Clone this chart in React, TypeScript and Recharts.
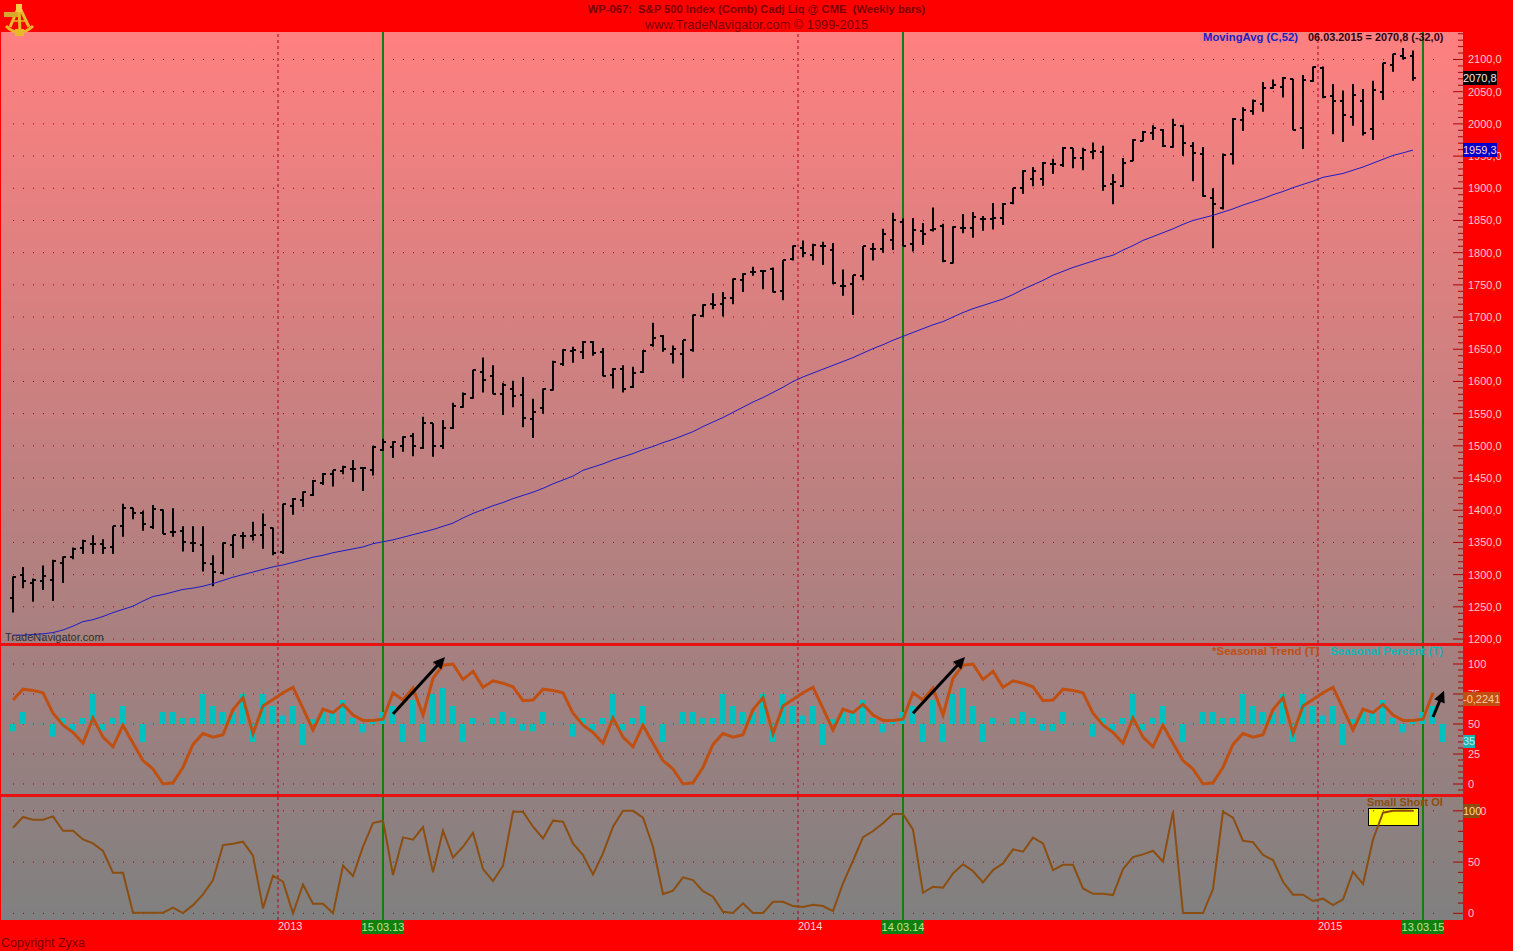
import { Bar, ComposedChart, Line, ReferenceLine, XAxis, YAxis } from "recharts";

// weekly bars from the end of June 2012, the last rows are the seasonal look-ahead
const weeks = Array.from({ length: 144 }, (_, i) => i);

const priceOpen = [
  1263, 1300, 1287, 1290, 1292, 1318, 1328, 1341, 1348, 1348,
  1343, 1375, 1403, 1396, 1374, 1401, 1366, 1368, 1349, 1346,
  1317, 1303, 1346, 1360, 1360, 1362, 1373, 1335, 1407, 1416,
  1424, 1442, 1456, 1461, 1464, 1465, 1463, 1493, 1498, 1500,
  1515, 1497, 1535, 1500, 1528, 1561, 1575, 1614, 1608, 1581,
  1588, 1579, 1541, 1559, 1587, 1627, 1647, 1645, 1662, 1646,
  1610, 1619, 1591, 1614, 1656, 1671, 1643, 1643, 1649, 1701,
  1720, 1720, 1729, 1758, 1770, 1772, 1774, 1741, 1790, 1808,
  1796, 1810, 1804, 1748, 1751, 1764, 1805, 1806, 1820, 1847,
  1813, 1833, 1835, 1841, 1784, 1838, 1839, 1852, 1853, 1854,
  1877, 1900, 1914, 1914, 1938, 1936, 1962, 1947, 1957, 1956,
  1906, 1904, 1943, 1974, 1986, 1990, 1964, 1997, 1966, 1953,
  1885, 1869, 1954, 2006, 2020, 2031, 2056, 2057, 2069, 1993,
  2066, 2087, 2044, 2036, 2011, 2036, 1992, 2049, 2091, 2105,
  2105,
];
const priceHigh = [
  1297, 1312, 1294, 1314, 1323, 1328, 1342, 1354, 1361, 1355,
  1375, 1410, 1404, 1399, 1408, 1401, 1403, 1375, 1375, 1375,
  1330, 1350, 1361, 1366, 1382, 1395, 1373, 1410, 1419, 1429,
  1447, 1458, 1462, 1469, 1478, 1466, 1500, 1511, 1507, 1515,
  1520, 1545, 1535, 1540, 1567, 1583, 1618, 1637, 1625, 1598,
  1601, 1607, 1573, 1589, 1632, 1650, 1654, 1663, 1663, 1652,
  1621, 1625, 1623, 1649, 1691, 1672, 1656, 1664, 1704, 1720,
  1737, 1739, 1760, 1768, 1778, 1773, 1777, 1789, 1811, 1819,
  1814, 1817, 1815, 1774, 1765, 1810, 1815, 1837, 1862, 1853,
  1854, 1846, 1870, 1845, 1841, 1860, 1863, 1857, 1877, 1877,
  1901, 1928, 1933, 1941, 1946, 1964, 1963, 1963, 1971, 1966,
  1922, 1947, 1976, 1989, 1998, 1992, 2008, 1998, 1972, 1964,
  1900, 1954, 2009, 2026, 2038, 2065, 2069, 2073, 2070, 2076,
  2089, 2089, 2062, 2052, 2062, 2054, 2067, 2095, 2109, 2118,
  2114,
];
const priceLow = [
  1241, 1279, 1258, 1276, 1259, 1287, 1324, 1332, 1332, 1332,
  1332, 1359, 1386, 1368, 1371, 1363, 1359, 1336, 1335, 1305,
  1282, 1301, 1326, 1340, 1353, 1340, 1330, 1332, 1393, 1405,
  1422, 1439, 1437, 1456, 1444, 1430, 1454, 1492, 1481, 1491,
  1484, 1495, 1483, 1495, 1526, 1559, 1573, 1583, 1580, 1548,
  1560, 1529, 1512, 1550, 1586, 1624, 1629, 1635, 1640, 1608,
  1589, 1583, 1590, 1613, 1654, 1646, 1628, 1605, 1646, 1700,
  1712, 1701, 1720, 1739, 1764, 1743, 1738, 1726, 1788, 1793,
  1788, 1781, 1751, 1733, 1703, 1757, 1788, 1800, 1804, 1810,
  1802, 1812, 1833, 1785, 1783, 1830, 1823, 1834, 1836, 1843,
  1875, 1891, 1903, 1904, 1922, 1933, 1931, 1928, 1945, 1896,
  1875, 1902, 1942, 1973, 1975, 1964, 1963, 1950, 1911, 1887,
  1807, 1867, 1937, 1989, 2014, 2019, 2054, 2041, 1990, 1961,
  2065, 2040, 1984, 1972, 1997, 1982, 1975, 2037, 2081, 2100,
  2067,
];
const priceClose = [
  1296, 1290, 1291, 1298, 1321, 1327, 1340, 1352, 1348, 1342,
  1375, 1403, 1396, 1378, 1402, 1363, 1366, 1350, 1349, 1318,
  1304, 1349, 1361, 1360, 1361, 1377, 1334, 1409, 1418, 1428,
  1446, 1457, 1462, 1467, 1464, 1465, 1498, 1506, 1506, 1514,
  1500, 1536, 1500, 1528, 1562, 1581, 1618, 1602, 1580, 1595,
  1578, 1543, 1553, 1588, 1630, 1649, 1649, 1662, 1644, 1609,
  1620, 1588, 1613, 1648, 1668, 1651, 1651, 1664, 1703, 1719,
  1719, 1730, 1759, 1767, 1770, 1771, 1739, 1788, 1810, 1799,
  1812, 1810, 1753, 1748, 1765, 1810, 1806, 1829, 1851, 1811,
  1835, 1829, 1837, 1787, 1840, 1839, 1855, 1852, 1854, 1876,
  1900, 1927, 1927, 1940, 1938, 1963, 1947, 1960, 1958, 1904,
  1910, 1940, 1975, 1988, 1993, 1966, 1999, 1970, 1955, 1888,
  1875, 1952, 2008, 2022, 2035, 2056, 2060, 2072, 1991, 2068,
  2088, 2041, 2035, 2014, 2045, 1986, 2053, 2094, 2108, 2102,
  2070.8,
];
const movingAvg = [
  1206, 1206, 1207, 1208, 1210, 1214, 1220, 1227, 1230, 1235,
  1241, 1246, 1251, 1259, 1266, 1269, 1273, 1277, 1279, 1282,
  1286, 1291, 1296, 1300, 1304, 1308, 1312, 1315, 1319, 1323,
  1327, 1330, 1334, 1337, 1340, 1343, 1348, 1351, 1354, 1358,
  1362, 1366, 1370, 1375, 1380, 1388, 1395, 1401, 1407, 1412,
  1418, 1423, 1428, 1434, 1441, 1447, 1453, 1462, 1467, 1472,
  1478, 1483, 1488, 1494, 1499, 1505, 1510, 1516, 1522, 1530,
  1537, 1544, 1552, 1560, 1568, 1575, 1583, 1591, 1600, 1607,
  1613, 1619, 1625, 1631, 1637, 1644, 1651, 1657, 1664, 1670,
  1676, 1682, 1688, 1693, 1700, 1707, 1713, 1718, 1723, 1728,
  1735, 1743, 1750, 1757, 1765, 1771, 1777, 1782, 1787, 1792,
  1796, 1804, 1811, 1819, 1825, 1831, 1837, 1844, 1850, 1854,
  1858, 1863, 1868, 1874, 1879, 1884, 1890, 1895, 1901, 1906,
  1911, 1917, 1920, 1923, 1928, 1933, 1939, 1945, 1951, 1955,
  1959.3,
];
const seasonalTrend = [
  70, 79, 78, 76, 59, 49, 43, 34, 55, 39, 31, 49, 34, 19.5, 12.5, 0, 1, 14, 33, 42, 39, 41, 62, 72, 42, 65,
  70.5, 76, 80.5, 63, 45, 62.5, 59.5, 66.5, 57.5, 53, 53, 54, 76, 70, 80, 57.5, 88, 99, 100, 87, 94, 80.5, 86, 84, 81, 69.5,
  70, 79, 78, 76, 59, 49, 43, 34, 55, 39, 31, 49, 34, 19.5, 12.5, 0, 1, 14, 33, 42, 39, 41, 62, 72, 42, 65,
  70.5, 76, 80.5, 63, 45, 62.5, 59.5, 66.5, 57.5, 53, 53, 54, 76, 70, 80, 57.5, 88, 99, 100, 87, 94, 80.5, 86, 84, 81, 69.5,
  70, 79, 78, 76, 59, 49, 43, 34, 55, 39, 31, 49, 34, 19.5, 12.5, 0, 1, 14, 33, 42, 39, 41, 62, 72, 42, 65,
  70.5, 76, 80.5, 63, 45, 62.5, 59.5, 66.5, 57.5, 53, 53, 54, 76,
];
const seasonalPercent = [
  44, 60, 50, 50, 39.5, 55, 44.5, 55, 75, 44.5, 55, 65, 50, 35, 50, 60, 60, 55, 55, 75, 65, 60, 60, 75, 35, 75,
  65, 57, 65, 32.5, 54, 60, 60, 70, 55, 43, 53, 60, 65, 35, 70, 35, 75, 80, 65, 35, 55, 50, 55, 60, 55, 44.5,
  44, 60, 50, 50, 39.5, 55, 44.5, 55, 75, 44.5, 55, 65, 50, 35, 50, 60, 60, 55, 55, 75, 65, 60, 60, 75, 35, 75,
  65, 57, 65, 32.5, 54, 60, 60, 70, 55, 43, 53, 60, 65, 35, 70, 35, 75, 80, 65, 35, 55, 50, 55, 60, 55, 44.5,
  44, 60, 50, 50, 39.5, 55, 44.5, 55, 75, 44.5, 55, 65, 50, 35, 50, 60, 60, 55, 55, 75, 65, 60, 60, 75, 35, 75,
  65, 57, 65, 32.5, 54, 60, 60, 70, 55, 43, 53, 60, 65, 35,
];
const smallShortOI = [
  83.5, 94, 91.3, 91.3, 94.6, 80.6, 80.6, 72.1, 68.2, 60.8,
  39.6, 39.6, 0.6, 0.6, 0.6, 0.6, 5.5, 0.3, 8, 18.5,
  32.5, 66.6, 67.9, 69.9, 56.2, 4.8, 36.7, 30.8, 0, 28.2,
  9.4, 9.4, 0, 46.5, 36.4, 65, 88.1, 90.4, 37.4, 74.1,
  71.8, 84.2, 40, 80.6, 54.3, 65, 78.7, 43.2, 31.5, 46.5,
  99.1, 99.1, 84.5, 73.1, 90.4, 89.4, 68.2, 56.9, 38, 58.5,
  84.5, 100, 100, 93.3, 65, 18.8, 22.1, 35.1, 32.5, 21.7,
  16.2, 1.6, 0.3, 9.7, 0.3, 0.3, 11.3, 11.3, 7.1, 6.1,
  8.4, 7.1, 2.2, 29.2, 51.3, 74.4, 80.3, 87.8, 96.9, 96.9,
  81.6, 20.1, 26, 25, 39, 47.8, 41.3, 30.2, 42.2, 48.7,
  62.4, 60.1, 73.8, 68.2, 42.2, 47.4, 47.4, 24.3, 19.1, 19.1,
  17.8, 43.2, 54.9, 57.5, 61.1, 50.4, 99.1, 0.3, 0.3, 0.3,
  23.7, 99.1, 93.3, 70.8, 69.5, 56.9, 52, 30.8, 18.2, 18.2,
  12, 14.3, 8.1, 13.6, 40.6, 28.6, 72.1, 98.2, 100, 100.4,
  100,
];

const yearLines = [26.5, 78.5, 130.5];
const yearLabels = ["2013", "2014", "2015"];
const cycleLines = [37, 89, 141];
const cycleLabels = ["15.03.13", "14.03.14", "13.03.15"];
const seasonalArrows = [
  { x1: 38, y1: 58.3, x2: 43.2, y2: 105.8 },
  { x1: 90, y1: 59, x2: 95.2, y2: 105.8 },
  { x1: 142, y1: 55.8, x2: 143.1, y2: 77.8 },
];

const priceTicks = Array.from({ length: 95 }, (_, k) => 1200 + k * 10);
const priceGrid = Array.from({ length: 19 }, (_, k) => 1200 + k * 50);
const seasonalTicks = Array.from({ length: 24 }, (_, k) => -5 + k * 5);
const seasonalGrid = [0, 25, 50, 75, 100];
const oiTicks = Array.from({ length: 11 }, (_, k) => k * 10);
const oiGrid = [0, 50, 100];

const rows = weeks.map((i) => ({
  i,
  open: priceOpen[i] ?? null,
  high: priceHigh[i] ?? null,
  low: priceLow[i] ?? null,
  close: priceClose[i] ?? null,
  range: priceHigh[i] != null ? [priceLow[i], priceHigh[i]] : null,
  ma: movingAvg[i] ?? null,
  trend: seasonalTrend[i] ?? null,
  pct: [Math.min(50, seasonalPercent[i]), Math.max(50, seasonalPercent[i])],
  oi: smallShortOI[i] ?? null,
}));

const FONT = "'Liberation Sans', Arial, sans-serif";
const TICK_RED = "#b00000";
const LABEL_PINK = "#ffc8c8";
const GRID_RED = "#9a0010";
const YEAR_RED = "#b00020";
const GREEN = "#108010";
const X_DOMAIN = [-1.2, 145];

// OHLC bar: stem with open tick left, close tick right, snapped to whole pixels
const OhlcShape = (props: any) => {
  const { x, y, width, height, payload } = props;
  if (!payload || payload.high == null) return null;
  const cx = Math.round(x + width / 2);
  const perUnit = height / (payload.high - payload.low);
  const openY = Math.round(y + (payload.high - payload.open) * perUnit);
  const closeY = Math.round(y + (payload.high - payload.close) * perUnit);
  return (
    <g stroke="#000" strokeWidth={2}>
      <line x1={cx} y1={y} x2={cx} y2={y + height} />
      <line x1={cx - 3} y1={openY} x2={cx} y2={openY} />
      <line x1={cx} y1={closeY} x2={cx + 3} y2={closeY} />
    </g>
  );
};

const PercentShape = (props: any) => {
  const { x, y, width, height } = props;
  if (height < 0.5) return <rect x={x} y={y - 0.5} width={width} height={1} fill="#00c0c0" opacity={0.45} />;
  return <rect x={x} y={y} width={width} height={height} fill="#00c0c0" />;
};

const ArrowShape = (props: any) => {
  const { x1, y1, x2, y2 } = props;
  const a = Math.atan2(y2 - y1, x2 - x1);
  const len = 13;
  const spread = 0.45;
  const head = [
    [x2, y2],
    [x2 - len * Math.cos(a - spread), y2 - len * Math.sin(a - spread)],
    [x2 - len * Math.cos(a + spread), y2 - len * Math.sin(a + spread)],
  ]
    .map((p) => p.join(","))
    .join(" ");
  return (
    <g>
      <line x1={x1} y1={y1} x2={x2 - 6 * Math.cos(a)} y2={y2 - 6 * Math.sin(a)} stroke="#000" strokeWidth={3} />
      <polygon points={head} fill="#000" />
    </g>
  );
};

// right hand scale, tick marks point into the plot
const makeYTick = (isMajor: (v: number) => boolean, format: (v: number) => string) => (props: any) => {
  const { x, y, payload } = props;
  const major = isMajor(payload.value);
  return (
    <g>
      <line x1={x - (major ? 10 : 5)} y1={y} x2={x} y2={y} stroke={TICK_RED} />
      {major && (
        <text x={x + 5} y={y + 4} fontSize={11} fontFamily={FONT} fill={LABEL_PINK}>
          {format(payload.value)}
        </text>
      )}
    </g>
  );
};

const priceTick = makeYTick(
  (v) => v % 50 === 0,
  (v) => v.toFixed(1).replace(".", ",")
);
const seasonalTick = makeYTick(
  (v) => v >= 0 && v <= 100 && v % 25 === 0,
  (v) => String(v)
);
const oiTick = makeYTick(
  (v) => v % 50 === 0,
  (v) => String(v)
);

const DateTick = (props: any) => {
  const { x, y, payload } = props;
  const y0 = yearLines.indexOf(payload.value);
  if (y0 >= 0) {
    return (
      <text x={x} y={y + 10} fontSize={11} fontFamily={FONT} fill="#ffd0d0">
        {yearLabels[y0]}
      </text>
    );
  }
  const c = cycleLines.indexOf(payload.value);
  return (
    <g>
      <rect x={x - 21} y={y} width={42} height={14} fill={GREEN} />
      <text x={x} y={y + 11} textAnchor="middle" fontSize={11} fontFamily={FONT} fill="#c8e090">
        {cycleLabels[c]}
      </text>
    </g>
  );
};

// the two kinds of vertical markers and the dotted levels, shared by the panes
const paneMarkers = (grid: number[]) => [
  ...grid.map((v) => (
    <ReferenceLine
      key={`g${v}`}
      segment={[
        { x: 0, y: v },
        { x: 143, y: v },
      ]}
      stroke={GRID_RED}
      strokeDasharray="1 9"
      zIndex={10}
    />
  )),
  ...yearLines.map((v) => (
    <ReferenceLine key={`y${v}`} x={v} stroke={YEAR_RED} strokeDasharray="3 3" zIndex={10} />
  )),
  ...cycleLines.map((v) => <ReferenceLine key={`c${v}`} x={v} stroke={GREEN} strokeWidth={2} zIndex={10} />),
];

const Txt = ({ x, y, color, size = 11, bold = true, bg, w, h, align, children }: any) => (
  <div
    style={{
      position: "absolute",
      left: x,
      top: y,
      width: w,
      height: h,
      lineHeight: h ? `${h}px` : undefined,
      textAlign: align,
      background: bg,
      color,
      fontFamily: FONT,
      fontSize: size,
      fontWeight: bold ? 700 : 400,
      whiteSpace: "pre",
    }}
  >
    {children}
  </div>
);

const Sextant = () => (
  <svg width={36} height={38} style={{ position: "absolute", left: 1, top: 1 }}>
    <g stroke="#e8b828" fill="none" strokeWidth={3}>
      <path d="M5 25 Q18 38 32 25" />
      <path d="M18 5 L9 26 M18 5 L28 26 M18 5 L19 33" />
      <path d="M11 20 L26 20" strokeWidth={1.5} />
    </g>
    <rect x={3} y={11} width={14} height={5} fill="#d8a828" />
    <rect x={15} y={3} width={6} height={8} fill="#f0cc48" />
    <rect x={14} y={28} width={9} height={7} fill="#e8b828" />
  </svg>
);

export default function App() {
  return (
    <div style={{ position: "absolute", left: 0, top: 0, width: 1513, height: 951, background: "#ff0000", overflow: "hidden" }}>
      {/* one gradient runs behind all three panes */}
      <div
        style={{
          position: "absolute",
          left: 1,
          top: 32,
          width: 1462,
          height: 888,
          background: "linear-gradient(#ff8080, #808080)",
        }}
      />
      <div style={{ position: "absolute", left: 1368, top: 808, width: 49, height: 16, background: "#ffff00", border: "1px solid #000" }} />

      <div style={{ position: "absolute", left: 0, top: 32 }}>
        <ComposedChart width={1513} height={625} data={rows} margin={{ top: 0, right: 0, bottom: 14, left: 1 }}>
          <XAxis dataKey="i" type="number" domain={X_DOMAIN} allowDataOverflow hide />
          <YAxis
            orientation="right"
            width={50}
            domain={[1193.8, 2142.7]}
            allowDataOverflow
            ticks={priceTicks}
            interval={0}
            axisLine={false}
            tickLine={false}
            tickSize={0}
            tickMargin={0}
            tick={priceTick}
          />
          {paneMarkers(priceGrid)}
          <Line dataKey="ma" stroke="#1c1cc4" strokeWidth={1} dot={false} isAnimationActive={false} />
          <Bar dataKey="range" barSize={4} shape={OhlcShape} isAnimationActive={false} />
        </ComposedChart>
      </div>

      <div style={{ position: "absolute", left: 0, top: 646 }}>
        <ComposedChart width={1513} height={148} data={rows} margin={{ top: 0, right: 0, bottom: 0, left: 1 }}>
          <XAxis dataKey="i" type="number" domain={X_DOMAIN} allowDataOverflow hide />
          <YAxis
            orientation="right"
            width={50}
            domain={[-8.33, 115]}
            allowDataOverflow
            ticks={seasonalTicks}
            interval={0}
            axisLine={false}
            tickLine={false}
            tickSize={0}
            tickMargin={0}
            tick={seasonalTick}
          />
          {paneMarkers(seasonalGrid)}
          <Bar dataKey="pct" barSize={6} shape={PercentShape} isAnimationActive={false} />
          <Line dataKey="trend" stroke="#c04f10" strokeWidth={3} dot={false} isAnimationActive={false} />
          {seasonalArrows.map((a) => (
            <ReferenceLine
              key={a.x1}
              segment={[
                { x: a.x1, y: a.y1 },
                { x: a.x2, y: a.y2 },
              ]}
              shape={ArrowShape}
            />
          ))}
        </ComposedChart>
      </div>

      <div style={{ position: "absolute", left: 0, top: 797 }}>
        <ComposedChart width={1513} height={154} data={rows} margin={{ top: 0, right: 0, bottom: 0, left: 1 }}>
          <XAxis
            dataKey="i"
            type="number"
            domain={X_DOMAIN}
            allowDataOverflow
            ticks={[...yearLines, ...cycleLines]}
            interval={0}
            height={31}
            axisLine={false}
            tickLine={false}
            tickSize={0}
            tickMargin={0}
            tick={DateTick}
          />
          <YAxis
            orientation="right"
            width={50}
            domain={[-6.5, 113.5]}
            allowDataOverflow
            ticks={oiTicks}
            interval={0}
            axisLine={false}
            tickLine={false}
            tickSize={0}
            tickMargin={0}
            tick={oiTick}
          />
          {paneMarkers(oiGrid)}
          <Line dataKey="oi" stroke="#8b4e10" strokeWidth={2} dot={false} isAnimationActive={false} />
        </ComposedChart>
      </div>

      {/* pane separators */}
      <div style={{ position: "absolute", left: 0, top: 643, width: 1463, height: 3, background: "#e81010" }} />
      <div style={{ position: "absolute", left: 0, top: 794, width: 1463, height: 3, background: "#e81010" }} />

      <Sextant />
      <Txt x={0} y={3} w={1513} align="center" color="#7a0000" size={11.2}>
        WP-067:  S&amp;P 500 Index (Comb) Cadj Liq @ CME  (Weekly bars)
      </Txt>
      <Txt x={0} y={17} w={1513} align="center" color="#7a0000" size={12.8} bold={false}>
        www.TradeNavigator.com © 1999-2015
      </Txt>
      <Txt x={1203} y={31} color="#2020c0" size={11.3}>MovingAvg (C,52)</Txt>
      <Txt x={1308} y={31} color="#300010" size={10.9}>06.03.2015 = 2070,8 (-32,0)</Txt>
      <Txt x={5} y={631} color="#303030" bold={false}>TradeNavigator.com</Txt>
      <Txt x={1212} y={645} color="#c04f10" size={11.5}>*Seasonal Trend (T)</Txt>
      <Txt x={1330} y={645} color="#10b8b8" size={11.4}>Seasonal Percent (T)</Txt>
      <Txt x={1367} y={796} color="#8b4e10">Small Short OI</Txt>
      <Txt x={1} y={936} color="#7a0000" size={12.5} bold={false}>Copyright Zyxa</Txt>

      <Txt x={1463} y={71} w={34} h={14} bg="#000000" color="#ffe0e0" bold={false}>2070,8</Txt>
      <Txt x={1463} y={143} w={34} h={14} bg="#0000c8" color="#ffd0d0" bold={false}>1959,3</Txt>
      <Txt x={1463} y={692} w={37} h={14} bg="#c04f10" color="#ffc8a0" bold={false}>-0,2241</Txt>
      <Txt x={1463} y={735} w={12} h={13} bg="#20b0b0" color="#b0f0f0" bold={false}>35</Txt>
      <Txt x={1463} y={804} w={17} h={14} bg="#8b4e10" color="#ffd8a0" bold={false}>100</Txt>
    </div>
  );
}
